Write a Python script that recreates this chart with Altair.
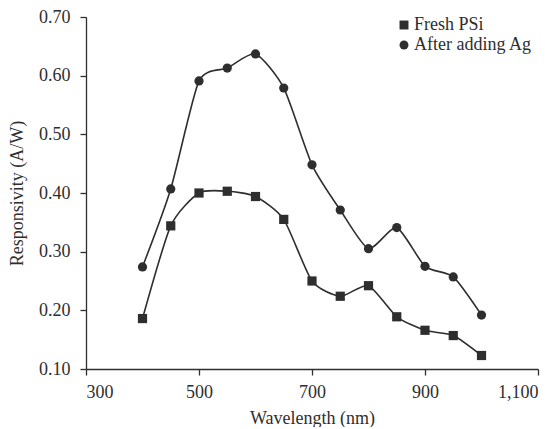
import altair as alt
import pandas as pd

wavelength = [400, 450, 500, 550, 600, 650, 700, 750, 800, 850, 900, 950, 1000]
fresh_psi = [0.186, 0.344, 0.400, 0.403, 0.394, 0.355, 0.250, 0.224, 0.242, 0.189, 0.166, 0.157, 0.123]
after_ag = [0.274, 0.407, 0.591, 0.613, 0.637, 0.579, 0.448, 0.371, 0.305, 0.341, 0.275, 0.257, 0.192]
series_names = ["Fresh PSi", "After adding Ag"]
x_ticks = [300, 500, 700, 900, 1100]
y_ticks = [0.1, 0.2, 0.3, 0.4, 0.5, 0.6, 0.7]

rows = []
for w, f, a in zip(wavelength, fresh_psi, after_ag):
    rows.append({"wl": w, "val": f, "series": series_names[0]})
    rows.append({"wl": w, "val": a, "series": series_names[1]})
df = pd.DataFrame(rows)

FONT = "Liberation Serif"
INK = "#2e2e2e"
FS = 18

x = alt.X("wl:Q", scale=alt.Scale(domain=[300, 1100], nice=False),
          axis=alt.Axis(values=x_ticks, format=",d", title="Wavelength (nm)",
                        grid=False, tickSize=6, labelPadding=8, titlePadding=8))
y = alt.Y("val:Q", scale=alt.Scale(domain=[0.1, 0.7], nice=False),
          axis=alt.Axis(values=y_ticks, format=".2f", title="Responsivity (A/W)",
                        grid=False, tickSize=6, labelPadding=10, titlePadding=12))

lines = alt.Chart(df).mark_line(interpolate="cardinal", tension=0.35, color=INK,
                                strokeWidth=1.6).encode(x=x, y=y, detail="series:N")

points = alt.Chart(df).mark_point(filled=True, opacity=1, color=INK, size=85).encode(
    x=x, y=y,
    shape=alt.Shape("series:N",
                    scale=alt.Scale(domain=series_names, range=["square", "circle"]),
                    legend=alt.Legend(title=None, orient="none", legendX=309, legendY=-1,
                                      symbolFillColor=INK, symbolStrokeColor=INK,
                                      symbolSize=80, labelFontSize=FS, labelFont=FONT,
                                      labelColor=INK, rowPadding=2, padding=0,
                                      labelOffset=1)))

chart = (lines + points).properties(
    width=452, height=352,
    autosize=alt.AutoSizeParams(type="none"),
    padding={"left": 78, "top": 9, "right": 4, "bottom": 58},
).configure_view(stroke=None).configure_axis(
    labelFont=FONT, titleFont=FONT, labelFontSize=FS, titleFontSize=FS,
    labelColor=INK, titleColor=INK, domainColor=INK, tickColor=INK,
    titleFontWeight="normal", domainWidth=1.3, tickWidth=1.3
)

chart.save("out.html", embed_options={"renderer": "svg", "actions": False})
